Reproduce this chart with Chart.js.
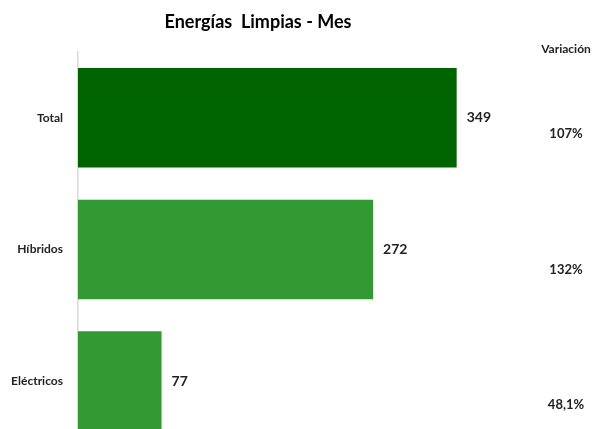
<!DOCTYPE html>
<html>
<head>
<meta charset="utf-8">
<script src="https://cdn.jsdelivr.net/npm/chart.js@4.4.0/dist/chart.umd.min.js"></script>
<style>
  html, body { margin: 0; padding: 0; background: #fff; overflow: hidden; }
  canvas { display: block; }
</style>
</head>
<body>
<canvas id="chart" width="595" height="461" style="width:595px;height:461px"></canvas>
<script>
const categories = ["Total", "Híbridos", "Eléctricos"];
const values = [349, 272, 77];
const variation = ["107%", "132%", "48,1%"];
const barColors = ["#006400", "#339933", "#339933"];
const chartTitle = "Energías  Limpias - Mes";
const variationTitle = "Variación";

const FONT = "Lato, 'Noto Sans', sans-serif";

// Title, value labels and the "Variación" column
const extraText = {
  id: "extraText",
  afterDatasetsDraw(chart) {
    const ctx = chart.ctx;
    const xs = chart.scales.x;
    const ys = chart.scales.y;
    ctx.save();
    ctx.fillStyle = "#000";
    ctx.textBaseline = "middle";

    ctx.font = "bold 18px " + FONT;
    ctx.textAlign = "center";
    ctx.fillText(chartTitle, 258, 22);

    ctx.font = "bold 12px " + FONT;
    ctx.fillStyle = "#222";
    ctx.fillText(variationTitle, 566, 49);

    values.forEach((v, i) => {
      const y = ys.getPixelForValue(i);
      ctx.font = "bold 14px " + FONT;
      ctx.fillStyle = "#222";
      ctx.textAlign = "left";
      ctx.fillText(String(v), xs.getPixelForValue(v) + 10, y);
      ctx.font = "bold 13px " + FONT;
      ctx.textAlign = "center";
      ctx.fillText(variation[i], 566, y + 16 + i * 4);
    });
    ctx.restore();
  }
};

const ctx = document.getElementById("chart").getContext("2d");
new Chart(ctx, {
  type: "bar",
  data: {
    labels: categories,
    datasets: [{
      data: values,
      backgroundColor: barColors,
      borderWidth: 0,
      categoryPercentage: 1,
      barPercentage: 0.756
    }]
  },
  options: {
    indexAxis: "y",
    responsive: false,
    animation: false,
    layout: { padding: { top: 52, right: 83, bottom: 7, left: 0 } },
    plugins: { legend: { display: false }, tooltip: { enabled: false } },
    scales: {
      x: { display: false, min: 0, max: 400 },
      y: {
        grid: { display: false },
        border: { display: true, color: "#d9d9d9", width: 1.5 },
        ticks: {
          color: "#222",
          font: { family: FONT, size: 12, weight: "bold" },
          padding: 7
        },
        afterFit(scale) { scale.width = 78; }
      }
    }
  },
  plugins: [extraText]
});
</script>
</body>
</html>
